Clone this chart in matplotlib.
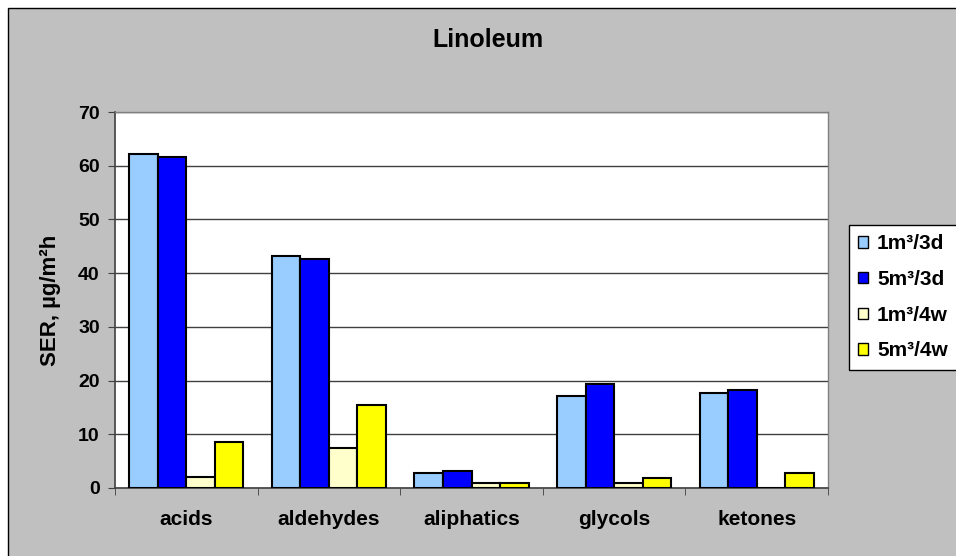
import numpy as np
import matplotlib.pyplot as plt
from matplotlib.patches import Rectangle

categories = ['acids', 'aldehydes', 'aliphatics', 'glycols', 'ketones']
series_names = ['1m³/3d', '5m³/3d', '1m³/4w', '5m³/4w']
v_1m3_3d = [62.2, 43.1, 2.8, 17.2, 17.6]
v_5m3_3d = [61.7, 42.7, 3.2, 19.4, 18.3]
v_1m3_4w = [2.0, 7.5, 0.9, 0.9, 0.0]
v_5m3_4w = [8.6, 15.5, 0.9, 1.8, 2.8]
colors = ['#99CCFF', '#0000FF', '#FFFFCC', '#FFFF00']

plt.rcParams['font.family'] = ['Liberation Sans', 'DejaVu Sans']
plt.rcParams['font.weight'] = 'bold'

fig = plt.figure(figsize=(9.56, 5.56), dpi=100, facecolor='white')
W, H = 956.0, 556.0

# grey chart area, cropped on right and bottom
bg = Rectangle((8 / W, -0.05), 1.1, 1 - 8 / H + 0.05, transform=fig.transFigure,
               facecolor='#C0C0C0', edgecolor='black', linewidth=1, zorder=-10)
fig.add_artist(bg)

ax = fig.add_axes([115 / W, 1 - 488 / H, (828 - 115) / W, (488 - 112) / H])
ax.set_facecolor('white')

x = np.arange(len(categories))
width = 0.2
for i, vals in enumerate([v_1m3_3d, v_5m3_3d, v_1m3_4w, v_5m3_4w]):
    ax.bar(x + (i - 1.5) * width, vals, width, color=colors[i], edgecolor='black',
           linewidth=1.5, label=series_names[i], zorder=3)

ax.set_xlim(-0.5, len(categories) - 0.5)
ax.set_ylim(0, 70)
ax.set_yticks(range(0, 71, 10))
ax.yaxis.grid(True, color='#404040', linewidth=1)
ax.set_axisbelow(True)

ax.set_xticks(x)
ax.set_xticklabels(categories, fontsize=15, fontweight='bold')
ax.set_xticks(np.arange(-0.5, len(categories)), minor=True)
ax.tick_params(axis='x', which='major', length=0, pad=16)
ax.tick_params(axis='x', which='minor', length=5, color='#404040', direction='out')
ax.tick_params(axis='y', length=5, color='#404040', labelsize=14, pad=6)
for lbl in ax.get_yticklabels():
    lbl.set_fontweight('bold')

for s in ['left', 'bottom']:
    ax.spines[s].set_color('#404040')
    ax.spines[s].set_linewidth(1.2)
for s in ['top', 'right']:
    ax.spines[s].set_color('#808080')
    ax.spines[s].set_linewidth(1)

ax.set_ylabel('SER, µg/m²h', fontsize=16, fontweight='bold', labelpad=12)
fig.text(488 / W, 1 - 40 / H, 'Linoleum', ha='center', va='center',
         fontsize=18, fontweight='bold')

leg = fig.legend(loc='upper left', bbox_to_anchor=(849 / W, 1 - 225 / H),
                 frameon=True, fancybox=False, framealpha=1, fontsize=15,
                 handlelength=0.45, handleheight=0.45, handletextpad=0.45,
                 labelspacing=0.8, borderpad=0.45, borderaxespad=0)
leg.get_frame().set_edgecolor('black')
leg.get_frame().set_linewidth(1)
leg.get_frame().set_facecolor('white')
for t in leg.get_texts():
    t.set_fontweight('bold')
for h in leg.legend_handles:
    h.set_linewidth(1)

fig.savefig('out.png', dpi=100, facecolor=fig.get_facecolor())
